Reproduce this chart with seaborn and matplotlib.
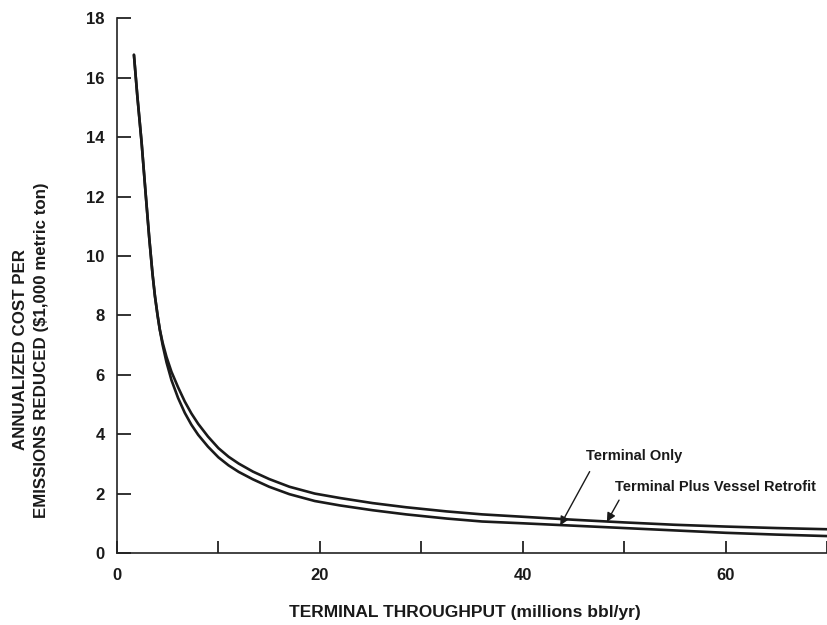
import matplotlib
matplotlib.use("Agg")
import matplotlib.pyplot as plt
import seaborn as sns
import pandas as pd

# Data
plus_x = [1.67, 2.0, 2.43, 2.8, 3.18, 3.5, 3.74, 4.0, 4.22, 4.5, 4.88, 5.37, 6.02, 6.68,
          7.33, 8.0, 8.97, 10.0, 11.0, 12.0, 13.4, 15.0, 17.0, 19.5, 22.0, 25.2, 28.5,
          32.5, 36.0, 40, 45, 50, 55, 60, 65, 70]
plus_y = [16.77, 15.4, 13.8, 12.2, 10.6, 9.4, 8.65, 8.0, 7.52, 7.08, 6.6, 6.1, 5.58, 5.1,
          4.7, 4.35, 3.92, 3.53, 3.24, 3.01, 2.74, 2.49, 2.23, 2.0, 1.85, 1.68, 1.54,
          1.40, 1.30, 1.22, 1.12, 1.03, 0.95, 0.89, 0.84, 0.80]
only_x = [1.67, 2.0, 2.43, 2.8, 3.18, 3.5, 3.74, 4.0, 4.22, 4.5, 4.88, 5.37, 6.02, 6.68,
          7.33, 8.0, 8.97, 10.0, 11.0, 12.0, 13.4, 15.0, 17.0, 19.5, 22.0, 25.2, 28.5,
          32.5, 36.0, 40, 45, 50, 55, 60, 65, 70]
only_y = [16.77, 15.4, 13.8, 12.2, 10.6, 9.4, 8.65, 8.0, 7.52, 7.0, 6.42, 5.82, 5.22, 4.72,
          4.32, 3.98, 3.58, 3.22, 2.95, 2.73, 2.48, 2.23, 1.98, 1.75, 1.60, 1.44, 1.30,
          1.16, 1.06, 1.0, 0.92, 0.84, 0.76, 0.68, 0.62, 0.57]
series_names = ["Terminal Plus Vessel Retrofit", "Terminal Only"]
x_ticks = [0, 10, 20, 30, 40, 50, 60, 70]
x_tick_labels = ["0", "", "20", "", "40", "", "60", ""]
y_ticks = [0, 2, 4, 6, 8, 10, 12, 14, 16, 18]

df = pd.concat([
    pd.DataFrame({"x": plus_x, "y": plus_y, "series": series_names[0]}),
    pd.DataFrame({"x": only_x, "y": only_y, "series": series_names[1]}),
])

sns.set_style("ticks")
plt.rcParams["font.family"] = ["Liberation Sans", "DejaVu Sans"]

fig = plt.figure(figsize=(8.27, 6.25), dpi=100)
ax = fig.add_axes([117 / 827, 1 - 553 / 625, 1 - 117 / 827, (553 - 18.3) / 625])

sns.lineplot(data=df, x="x", y="y", hue="series", palette=["#1a1a1a", "#1a1a1a"],
             sort=False, estimator=None, linewidth=1.9, legend=False, ax=ax)
for ln in ax.lines:
    ln.set_solid_joinstyle("round")

ax.set_xlim(0, 70)
ax.set_ylim(0, 18)
ax.set_xticks(x_ticks)
ax.set_xticklabels(x_tick_labels)
ax.set_yticks(y_ticks)
for lab in ax.get_xticklabels() + ax.get_yticklabels():
    lab.set_fontweight("bold")
    lab.set_fontsize(12)
    lab.set_color("#1a1a1a")
ax.tick_params(axis="y", direction="in", length=10, width=1.3, pad=9, color="#222222")
ax.tick_params(axis="x", direction="in", length=9, width=1.3, pad=11, color="#222222")
ax.set_xlabel("")
ax.set_ylabel("")
sns.despine(ax=ax)
for s in ("left", "bottom"):
    ax.spines[s].set_linewidth(1.2)
    ax.spines[s].set_color("#222222")

fig.text(31 / 827, 1 - 350 / 625,
         "ANNUALIZED COST PER\nEMISSIONS REDUCED ($1,000 metric ton)",
         rotation=90, ha="center", va="center", fontsize=12.2, fontweight="bold",
         linespacing=1.45, color="#1a1a1a")
fig.text(465 / 827, 1 - 612 / 625, "TERMINAL THROUGHPUT (millions bbl/yr)",
         ha="center", va="center", fontsize=12.5, fontweight="bold", color="#1a1a1a")

ax.text(51.0, 3.27, series_names[1], ha="center", va="center", fontsize=10.5,
        fontweight="bold", color="#1a1a1a")
ax.text(59.0, 2.22, series_names[0], ha="center", va="center", fontsize=10.5,
        fontweight="bold", color="#1a1a1a", clip_on=False)
ax.annotate("", xy=(43.7, 0.93), xytext=(46.6, 2.74),
            arrowprops=dict(arrowstyle="-|>", color="#1a1a1a", lw=1.0,
                            mutation_scale=13, shrinkA=0, shrinkB=0))
ax.annotate("", xy=(48.3, 1.05), xytext=(49.5, 1.78),
            arrowprops=dict(arrowstyle="-|>", color="#1a1a1a", lw=1.0,
                            mutation_scale=13, shrinkA=0, shrinkB=0))

fig.savefig("out.png", dpi=100)
